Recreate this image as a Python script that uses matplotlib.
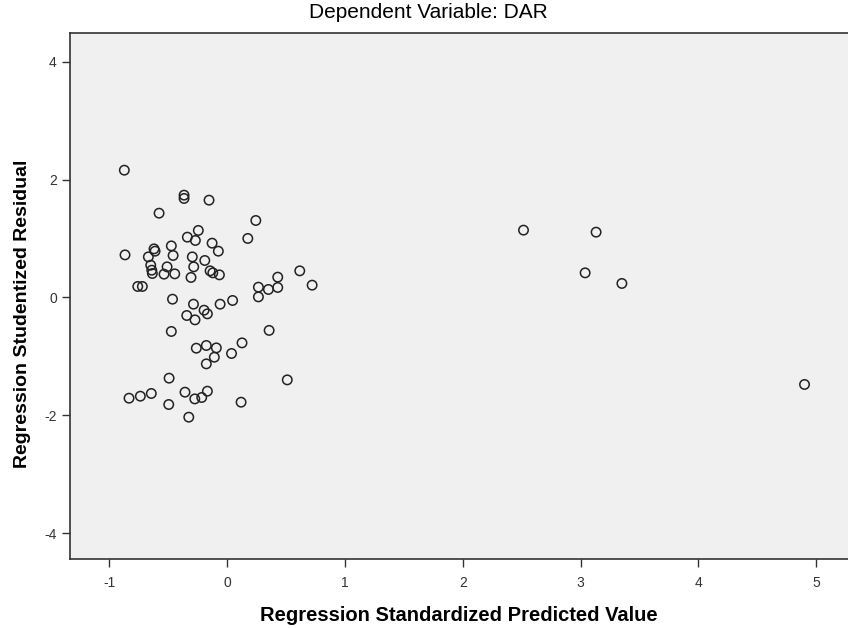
import matplotlib
matplotlib.use('Agg')
import matplotlib.pyplot as plt

plt.rcParams['font.family'] = ['Liberation Sans', 'DejaVu Sans']
plt.rcParams['axes.unicode_minus'] = False

# Regression standardized predicted value
pred = [-0.872, -0.365, -0.365, -0.153, -0.577, 0.244, 0.176, -0.337, -0.244, -0.269,
        -0.127, -0.074, -0.866, -0.473, -0.458, -0.620, -0.611, -0.668, -0.295, -0.189,
        -0.648, -0.639, -0.634, -0.509, -0.283, -0.535, -0.444, -0.144, -0.121, -0.065,
        -0.306, -0.758, -0.719, 0.430, 0.266, 0.351, 0.430, 0.266, -0.463, 0.047,
        -0.285, -0.195, -0.167, -0.059, -0.342, -0.272, -0.473, 0.357, -0.261, -0.176,
        -0.091, -0.108, -0.176, 0.038, 0.127, 0.511, -0.492, -0.832, -0.736, -0.643,
        -0.357, -0.274, -0.215, -0.167, -0.495, -0.325, 0.119, 0.617, 0.722,
        2.516, 3.132, 3.039, 3.351, 4.901]
# Regression studentized residual
resid = [2.161, 1.737, 1.681, 1.652, 1.431, 1.307, 1.002, 1.024, 1.138, 0.968,
         0.922, 0.786, 0.723, 0.876, 0.713, 0.825, 0.786, 0.689, 0.689, 0.628,
         0.548, 0.463, 0.407, 0.520, 0.520, 0.396, 0.401, 0.452, 0.418, 0.384,
         0.340, 0.187, 0.187, 0.345, 0.175, 0.136, 0.170, 0.010, -0.029, -0.051,
         -0.114, -0.216, -0.278, -0.114, -0.306, -0.380, -0.577, -0.559, -0.861, -0.815,
         -0.856, -1.014, -1.127, -0.951, -0.771, -1.399, -1.370, -1.710, -1.676, -1.630,
         -1.608, -1.722, -1.698, -1.591, -1.817, -2.032, -1.778, 0.452, 0.209,
         1.143, 1.109, 0.418, 0.238, -1.477]

xticks = [-1, 0, 1, 2, 3, 4, 5]
yticks = [-4, -2, 0, 2, 4]

fig = plt.figure(figsize=(8.48, 6.28), dpi=100)
ax = fig.add_axes([70 / 848, 69 / 628, 1 - 70 / 848, 526 / 628])
ax.set_facecolor('#f0f0f0')

ax.scatter(pred, resid, s=46, facecolors='none', edgecolors='#222222', linewidths=1.1)

ax.set_xlim(-1.333, 5.27)
ax.set_ylim(-4.44, 4.49)
ax.set_xticks(xticks)
ax.set_yticks(yticks)
ax.tick_params(direction='out', length=6, width=1, labelsize=10, colors='#333333')
ax.tick_params(axis='x', pad=6)
ax.spines['right'].set_visible(False)
for s in ['left', 'bottom', 'top']:
    ax.spines[s].set_linewidth(1.2)
    ax.spines[s].set_color('#333333')

ax.set_xlabel('Regression Standardized Predicted Value', fontsize=14.5, fontweight='bold', labelpad=12)
ax.set_ylabel('Regression Studentized Residual', fontsize=14, fontweight='bold')
ax.yaxis.set_label_coords(-0.05, 0.466)
fig.text(428 / 848, 1 - 13 / 628, 'Dependent Variable: DAR', fontsize=15, ha='center', va='center')

fig.savefig('out.png', dpi=100)
